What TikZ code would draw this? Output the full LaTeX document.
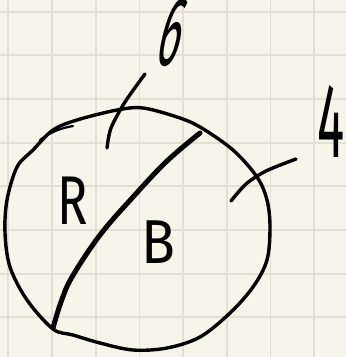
\documentclass[tikz,border=0pt]{standalone}
\usepackage{fontspec}
\newfontfamily\hand{Fira Sans}
\definecolor{paper}{HTML}{F7F5EA}
\definecolor{gridc}{HTML}{E2E0D3}
\tikzset{
  ink/.style={line width=3.4pt, line cap=round, line join=round, black},
  gridline/.style={line width=1.8pt, gridc},
  lbl/.style={inner sep=0pt, anchor=center}
}
\begin{document}
\begin{tikzpicture}[x=1pt,y=-1pt]
\fill[paper] (0,0) rectangle (346,357);
\useasboundingbox (0,0) rectangle (346,357);
% grid
\foreach \gx in {8.3,52,95.7,139.4,183,226.7,270.4,314} {\draw[gridline] (\gx,0) -- (\gx,357);}
\foreach \gy in {11.7,55.3,99,142.7,186.3,230,273.7,317.3} {\draw[gridline] (0,\gy) -- (346,\gy);}
% outline
\draw[ink] plot[smooth cycle, tension=0.55] coordinates {(33,150) (53,130) (77,120) (117,110) (143,108) (177,117) (200,127) (233,150) (257,177) (267,200) (270,227) (267,260) (253,287) (230,313) (200,337) (167,348) (133,350) (100,343) (73,335) (53,329) (27,300) (10,267) (5,233) (7,200) (17,167)};
\draw[ink, line width=2.2pt] (40,140) .. controls (52,131) and (62,128) .. (73,126);
% diagonal
\draw[ink, line width=5pt] plot[smooth, tension=0.6] coordinates {(53,328) (61,302) (72,277) (100,235) (133,197) (167,161) (200,133)};
% ticks
\draw[ink] plot[smooth] coordinates {(107,148) (111,128) (125,102) (145,74)};
\draw[ink] plot[smooth] coordinates {(231,201) (246,184) (266,171) (296,159)};
% labels
\node[lbl, xslant=0.25, transform shape] (six) at (173,33) {\hand\fontsize{98}{98}\selectfont\scalebox{0.43}[1]{6}};
\node[lbl] (four) at (331,122) {\hand\fontsize{106}{106}\selectfont\scalebox{0.48}[1]{4}};
\node[lbl] (r) at (73,201) {\hand\fontsize{69}{69}\selectfont\scalebox{0.73}[1]{R}};
\node[lbl] (b) at (158,242) {\hand\fontsize{62}{62}\selectfont\scalebox{0.9}[1]{B}};
\end{tikzpicture}
\end{document}
